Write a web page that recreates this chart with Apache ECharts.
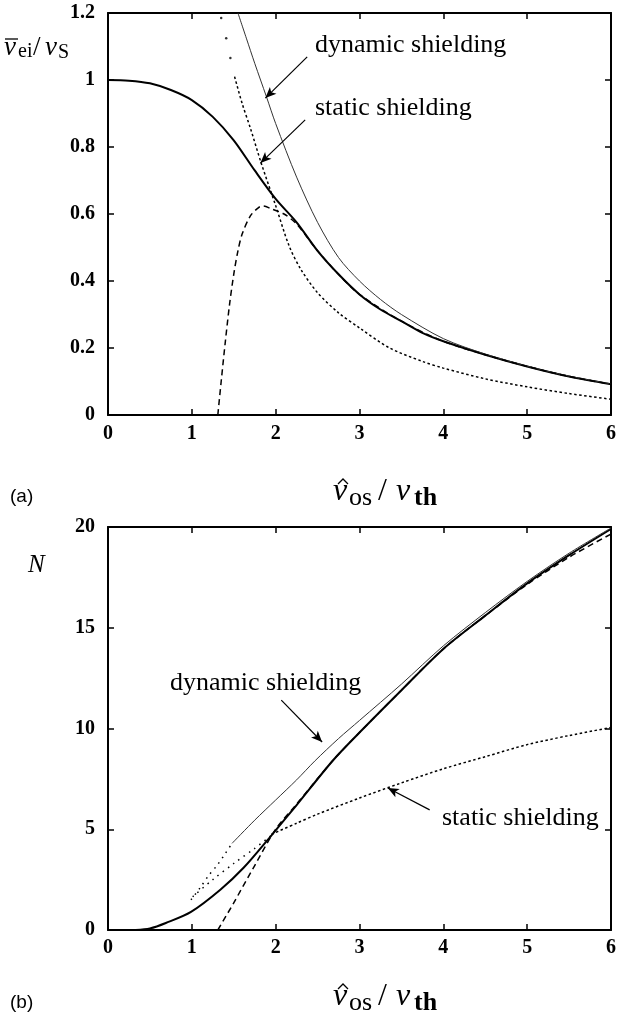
<!DOCTYPE html>
<html>
<head>
<meta charset="utf-8">
<script src="https://cdn.jsdelivr.net/npm/echarts@6/dist/echarts.min.js"></script>
<style>
  html, body { margin: 0; padding: 0; background: #fff; }
  #chart { width: 619px; height: 1021px; }
</style>
</head>
<body>
<div id="chart"></div>
<script>
// (a) mean collision frequency nu_ei / nu_S against v_os / v_th
var aMeanX = [0, 0.25, 0.5, 0.75, 1, 1.25, 1.5, 1.75, 2, 2.25, 2.5, 2.75, 3, 3.25, 3.5, 3.75, 4, 4.5, 5, 5.5, 6];
var aMeanY = [1.0, 0.998, 0.99, 0.97, 0.94, 0.89, 0.82, 0.73, 0.645, 0.575, 0.49, 0.42, 0.36, 0.315, 0.28, 0.245, 0.22, 0.18, 0.145, 0.115, 0.092];
var aDynX = [1.55, 1.65, 1.75, 1.89, 2, 2.25, 2.5, 2.75, 3, 3.25, 3.5, 4, 4.5, 5, 5.5, 6];
var aDynY = [1.2, 1.125, 1.05, 0.95, 0.87, 0.71, 0.575, 0.47, 0.40, 0.345, 0.3, 0.228, 0.182, 0.146, 0.116, 0.093];
var aStatX = [1.51, 1.6, 1.7, 1.83, 2, 2.16, 2.3, 2.5, 2.75, 3, 3.36, 3.75, 4, 4.5, 5, 5.5, 6];
var aStatY = [1.01, 0.93, 0.855, 0.75, 0.625, 0.505, 0.435, 0.365, 0.305, 0.26, 0.2, 0.16, 0.14, 0.108, 0.084, 0.064, 0.047];
var aStatDotX = [1.35, 1.41, 1.46];
var aStatDotY = [1.185, 1.125, 1.066];
var aRiseX = [1.31, 1.35, 1.4, 1.45, 1.5, 1.55, 1.6, 1.7, 1.8, 1.85, 1.95, 2.1, 2.25, 2.5, 2.75, 3, 3.5, 4, 4.5, 5, 5.5, 6];
var aRiseY = [0, 0.1, 0.22, 0.33, 0.42, 0.49, 0.54, 0.595, 0.62, 0.624, 0.615, 0.6, 0.57, 0.49, 0.42, 0.36, 0.28, 0.22, 0.18, 0.145, 0.115, 0.092];

// (b) N against v_os / v_th
var bMeanX = [0.33, 0.5, 0.69, 0.99, 1.34, 1.62, 1.95, 2.25, 2.68, 3, 3.5, 4, 4.5, 5, 5.5, 6];
var bMeanY = [0, 0.08, 0.35, 0.9, 2.0, 3.1, 4.7, 6.2, 8.4, 9.8, 11.9, 13.95, 15.6, 17.2, 18.6, 19.9];
var bDynDotX = [0.99, 1.1, 1.2, 1.3, 1.4, 1.48];
var bDynDotY = [1.5, 2.1, 2.7, 3.2, 3.8, 4.3];
var bDynX = [1.48, 1.75, 2, 2.25, 2.47, 2.75, 3, 3.5, 4, 4.5, 5, 5.5, 6];
var bDynY = [4.3, 5.45, 6.45, 7.45, 8.4, 9.5, 10.4, 12.2, 14.1, 15.75, 17.3, 18.7, 19.95];
var bStatDotX = [1.01, 1.25, 1.5, 1.75, 1.95];
var bStatDotY = [1.65, 2.5, 3.3, 4.05, 4.7];
var bStatX = [1.95, 2.25, 2.5, 3, 3.5, 4, 4.5, 5, 5.5, 6];
var bStatY = [4.75, 5.3, 5.75, 6.55, 7.3, 8.0, 8.6, 9.2, 9.65, 10.05];
var bRiseX = [1.31, 1.5, 1.75, 2, 2.25, 2.68, 3, 3.5, 4, 4.5, 5, 5.5, 6];
var bRiseY = [0, 1.35, 3.2, 5.0, 6.25, 8.4, 9.8, 11.9, 13.95, 15.6, 17.15, 18.5, 19.65];

// arrows: [from, to] in data units
var aArrows = [[[2.376, 1.069], [1.877, 0.946]], [[2.352, 0.881], [1.818, 0.752]]];
var bArrows = [[[2.067, 11.41], [2.554, 9.33]], [[3.837, 5.96], [3.338, 7.05]]];

var serif = "Liberation Serif";
var sans = "Liberation Sans";

function zip(xs, ys) {
  return xs.map(function (x, i) { return [x, ys[i]]; });
}

function xAxes(grid, margin) {
  var base = {
    gridIndex: grid, type: "value", min: 0, max: 6, interval: 1,
    axisLine: { show: true, onZero: false, lineStyle: { color: "#000", width: 2 } },
    axisTick: { show: true, inside: true, length: 6, lineStyle: { color: "#000", width: 1.5 } },
    splitLine: { show: false },
    axisLabel: {
      show: true, color: "#000", fontFamily: serif, fontSize: 20, fontWeight: "bold",
      margin: margin, showMinLabel: true, showMaxLabel: true
    }
  };
  var top = JSON.parse(JSON.stringify(base));
  top.position = "top";
  top.axisLabel.show = false;
  base.position = "bottom";
  return [base, top];
}

function yAxes(grid, max, step) {
  var base = {
    gridIndex: grid, type: "value", min: 0, max: max, interval: step,
    axisLine: { show: true, onZero: false, lineStyle: { color: "#000", width: 2 } },
    axisTick: { show: true, inside: true, length: 6, lineStyle: { color: "#000", width: 1.5 } },
    splitLine: { show: false },
    axisLabel: {
      show: true, color: "#000", fontFamily: serif, fontSize: 20, fontWeight: "bold",
      margin: 13, showMinLabel: true, showMaxLabel: true,
      formatter: function (v) { return String(+v.toFixed(1)); }
    }
  };
  var right = JSON.parse(JSON.stringify(base));
  right.position = "right";
  right.axisLabel.show = false;
  base.position = "left";
  return [base, right];
}

function curve(xi, yi, data, style, smooth) {
  return {
    type: "line", xAxisIndex: xi, yAxisIndex: yi, data: data,
    showSymbol: false, smooth: smooth === undefined ? 0.3 : smooth,
    lineStyle: style, silent: true, z: 3
  };
}

function arrowLines(list) {
  return {
    silent: true, symbol: ["none", "arrow"], symbolSize: [7, 11], precision: 3,
    label: { show: false },
    lineStyle: { color: "#000", width: 1.2, type: "solid" },
    emphasis: { disabled: true },
    data: list.map(function (a) { return [{ coord: a[0] }, { coord: a[1] }]; })
  };
}

// size, italic, bold, family
function txt(x, y, text, size, italic, bold, family) {
  return {
    type: "text", x: x, y: y, silent: true,
    style: {
      text: text, fill: "#000",
      fontSize: size, fontFamily: family || serif,
      fontStyle: italic ? "italic" : "normal",
      fontWeight: bold ? "bold" : "normal",
      textAlign: "left", textVerticalAlign: "middle",
      align: "left", verticalAlign: "middle"
    }
  };
}

// x-axis title  v^os / vth , dy shifts it between panels
function xTitle(dy) {
  return [
    txt(333, 492 + dy, "v", 32, true),
    { type: "polyline", silent: true,
      shape: { points: [[338, 484 + dy], [343, 479 + dy], [348, 484 + dy]] },
      style: { stroke: "#000", lineWidth: 1.3, fill: null } },
    txt(349, 498 + dy, "os", 26),
    txt(378, 492 + dy, "/", 32),
    txt(396, 492 + dy, "v", 32, true),
    txt(414, 498 + dy, "th", 26, false, true)
  ];
}

var chart = echarts.init(document.getElementById("chart"));

var xa = xAxes(0, 9), xb = xAxes(1, 8);
var ya = yAxes(0, 1.2, 0.2), yb = yAxes(1, 20, 5);

var meanA = curve(0, 0, zip(aMeanX, aMeanY), { color: "#000", width: 2 });
meanA.markLine = arrowLines(aArrows);
var meanB = curve(2, 2, zip(bMeanX, bMeanY), { color: "#000", width: 2 });
meanB.markLine = arrowLines(bArrows);

var option = {
  animation: false,
  backgroundColor: "#fff",
  grid: [
    { left: 108, top: 13, width: 505, height: 402 },
    { left: 108, top: 527, width: 505, height: 403 }
  ],
  xAxis: [xa[0], xa[1], xb[0], xb[1]],
  yAxis: [ya[0], ya[1], yb[0], yb[1]],
  series: [
    meanA,
    curve(0, 0, zip(aDynX, aDynY), { color: "#333", width: 1 }),
    curve(0, 0, zip(aStatX, aStatY), { color: "#000", width: 1.5, type: [2.5, 2.5] }),
    curve(0, 0, zip(aRiseX, aRiseY), { color: "#000", width: 1.5, type: [6, 4] }),
    {
      type: "scatter", xAxisIndex: 0, yAxisIndex: 0, data: zip(aStatDotX, aStatDotY),
      symbolSize: 2.5, itemStyle: { color: "#000" }, silent: true
    },
    meanB,
    curve(2, 2, zip(bDynX, bDynY), { color: "#333", width: 1 }),
    curve(2, 2, zip(bDynDotX, bDynDotY), { color: "#000", width: 1.5, type: [1.5, 5] }),
    curve(2, 2, zip(bStatX, bStatY), { color: "#000", width: 1.5, type: [2.5, 2.5] }),
    curve(2, 2, zip(bStatDotX, bStatDotY), { color: "#000", width: 1.5, type: [1.5, 5] }),
    curve(2, 2, zip(bRiseX, bRiseY), { color: "#000", width: 1.5, type: [6, 4] })
  ],
  graphic: [].concat(
    [
      // y title (a): nu-bar_ei / nu_S
      { type: "line", silent: true, shape: { x1: 5, y1: 39, x2: 18, y2: 39 },
        style: { stroke: "#000", lineWidth: 1.3 } },
      txt(4, 48, "\u03bd", 27, true),
      txt(18, 52, "ei", 20),
      txt(33, 48, "/", 27),
      txt(45, 48, "\u03bd", 27, true),
      txt(58, 53, "S", 20),
      // y title (b)
      txt(28, 565, "N", 25, true),
      // panel tags
      txt(10, 497, "(a)", 19, false, false, sans),
      txt(10, 1003, "(b)", 19, false, false, sans),
      // annotations
      txt(315, 45, "dynamic shielding", 26),
      txt(315, 108, "static shielding", 26),
      txt(170, 683, "dynamic shielding", 26),
      txt(442, 818, "static shielding", 26)
    ],
    xTitle(0),
    xTitle(505)
  )
};

chart.setOption(option);
</script>
</body>
</html>
